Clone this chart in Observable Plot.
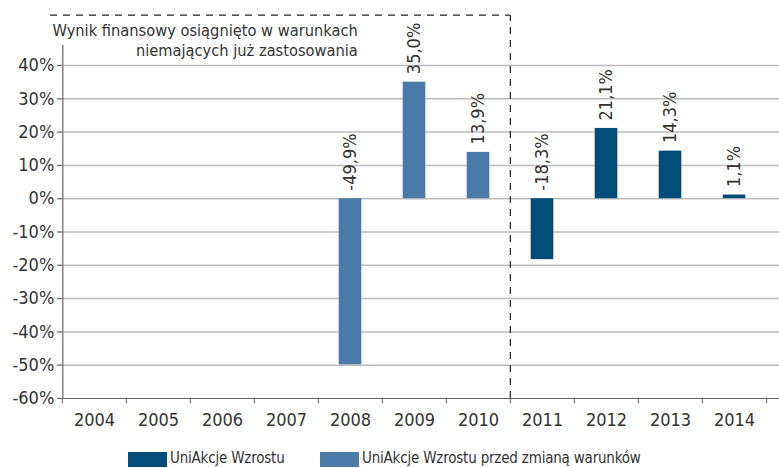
<!DOCTYPE html>
<html><head><meta charset="utf-8">
<script src="https://cdn.jsdelivr.net/npm/d3@7"></script>
<script src="https://cdn.jsdelivr.net/npm/@observablehq/plot@0.6"></script>
<style>
body{margin:0;background:#fff;}
#chart{width:779px;font-family:"DejaVu Sans Condensed","Liberation Sans Narrow",sans-serif;}
.legend{position:relative;height:23px;font-size:15px;color:#333;}
.legend .sw{position:absolute;top:7px;width:39px;height:15px;}
.legend .lb{position:absolute;top:5px;line-height:17px;letter-spacing:-0.2px;}
</style></head>
<body><div id="chart"></div>
<script>
const years = ["2004","2005","2006","2007","2008","2009","2010","2011","2012","2013","2014"];
const seriesNames = ["UniAkcje Wzrostu","UniAkcje Wzrostu przed zmianą warunków"];
const oldYears = ["2008","2009","2010"];
const oldValues = [-49.9, 35.0, 13.9];
const newYears = ["2011","2012","2013","2014"];
const newValues = [-18.3, 21.1, 14.3, 1.1];
const yTicks = [-60,-50,-40,-30,-20,-10,0,10,20,30,40];
const noteLines = ["Wynik finansowy osiągnięto w warunkach","niemających już zastosowania"];
const colors = ["#034b7b","#4a7ba8"];

const data = [
  ...oldYears.map((y,i)=>({year:y, value:oldValues[i], series:seriesNames[1]})),
  ...newYears.map((y,i)=>({year:y, value:newValues[i], series:seriesNames[0]}))
];
const fmt = v => d3.format(".1f")(v).replace(".", ",").replace("−", "-") + "%";

const W = 779, H = 445, mL = 60, mR = 11, mT = 65, mB = 47;
const step = (W - mL - mR) / years.length;
const font = "DejaVu Sans Condensed, Liberation Sans Narrow, sans-serif";
const first = () => years[0];

const plot = Plot.plot({
  width: W, height: H,
  marginLeft: mL, marginRight: mR, marginTop: mT, marginBottom: mB,
  style: {fontFamily: font, fontSize: "17px", color: "#333", background: "#fff", overflow: "visible"},
  x: {domain: years, padding: 0, axis: null},
  y: {domain: [-60, 40], axis: null},
  color: {domain: seriesNames, range: colors},
  marks: [
    Plot.ruleY(yTicks.filter(t => t > -60), {stroke: "#bdbdbd", strokeWidth: 1.5, insetRight: -mR}),
    Plot.ruleY([-60], {stroke: "#666", strokeWidth: 1.2, insetRight: -mR}),
    Plot.barY(data, {x: "year", y: "value", fill: "series", insetLeft: 20.7, insetRight: 20.7}),
    Plot.text(data, {x: "year", y: d => Math.max(d.value, 0), text: d => fmt(d.value), rotate: -90, textAnchor: "start", dy: -8, fontSize: 18, fill: "#333"}),
    // y axis line
    Plot.ruleX([years[0]], {y1: -60, y2: 46, stroke: "#666", strokeWidth: 1.2, dx: -step/2 + 0.5}),
    // y ticks & labels
    Plot.ruleY(yTicks, {x1: first, x2: first, y: d => d, stroke: "#666", strokeWidth: 1.2, insetLeft: -5, insetRight: step}),
    Plot.text(yTicks, {x: first, y: d => d, text: d => d + "%", dx: -step/2 - 8, textAnchor: "end", fontSize: 18, fill: "#333"}),
    // x ticks at band boundaries
    Plot.ruleX(years, {x: d => d, y1: -60, y2: -61.6, dx: -step/2, stroke: "#666"}),
    Plot.ruleX([years[years.length-1]], {y1: -60, y2: -61.6, dx: step/2, stroke: "#666"}),
    Plot.text(years, {x: d => d, y: -60, text: d => d, dy: 22, fontSize: 18, fill: "#333"}),
    // dashed separator
    Plot.ruleX(["2011"], {y1: -60, y2: 55, dx: -step/2, stroke: "#222", strokeWidth: 1.2, strokeDasharray: "7,6"}),
    Plot.text([noteLines[0]], {x: () => "2010", y: () => 55, text: d => d, dy: 15, dx: -step*1.875, textAnchor: "end", fontSize: 16.3, fill: "#333"}),
    Plot.text([noteLines[1]], {x: () => "2010", y: () => 55, text: d => d, dy: 35, dx: -step*1.875, textAnchor: "end", fontSize: 16.3, fill: "#333"})
  ]
});

// dashed top line of the annotation box, from scales
const xs = plot.scale("x"), ys = plot.scale("y");
const xRight = xs.apply("2011");
const yTop = ys.apply(55);
d3.select(plot).append("line")
  .attr("x1", xs.apply(years[0]) - 12).attr("x2", xRight)
  .attr("y1", yTop).attr("y2", yTop)
  .attr("stroke", "#222").attr("stroke-width", 1.2).attr("stroke-dasharray", "7,6");

const root = document.getElementById("chart");
root.appendChild(plot);
const leg = document.createElement("div");
leg.className = "legend";
const pos = [[128,170],[320,362]];
seriesNames.forEach((s,i)=>{
  const sw = document.createElement("div"); sw.className="sw"; sw.style.left=pos[i][0]+"px"; sw.style.background=colors[i];
  const lb = document.createElement("div"); lb.className="lb"; lb.style.left=pos[i][1]+"px"; lb.textContent=s;
  leg.appendChild(sw); leg.appendChild(lb);
});
root.appendChild(leg);
</script></body></html>
